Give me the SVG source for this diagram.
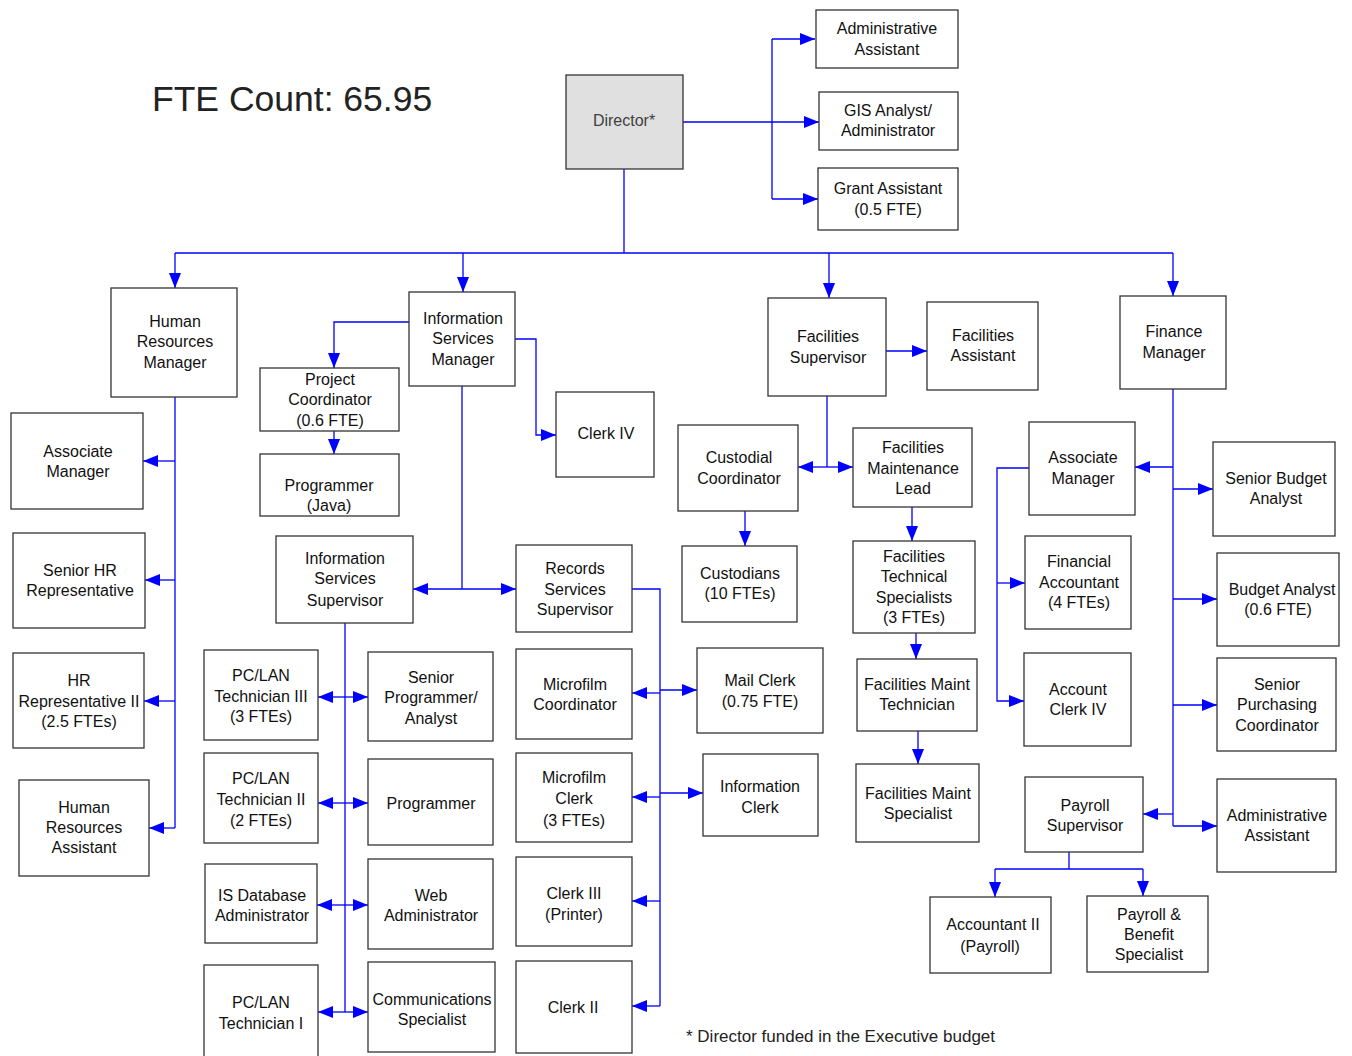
<svg xmlns="http://www.w3.org/2000/svg" width="1352" height="1056" viewBox="0 0 1352 1056">
<defs>
<marker id="ar" markerUnits="userSpaceOnUse" markerWidth="15" markerHeight="12" refX="15" refY="6" orient="auto" viewBox="0 0 15 12">
<path d="M0,0 L15,6 L0,12 z" fill="#0000ff"/>
</marker>
<style>
.n rect{fill:#fff;stroke:#333;stroke-width:1.3}
.n text{font-family:"Liberation Sans",Arial,sans-serif;font-size:16px;fill:#111;text-anchor:middle}
#director rect{fill:#e0e0e0}
#director text{fill:#404040}
#connectors path{fill:none;stroke:#0000ff;stroke-width:1.3}
#connectors path.a{marker-end:url(#ar)}
.t{font-family:"Liberation Sans",Arial,sans-serif;fill:#222}
</style>
</defs>
<rect width="1352" height="1056" fill="#fff"/>
<text class="t" x="152" y="111" font-size="35.5">FTE Count: 65.95</text>
<text class="t" x="686" y="1042" font-size="17">* Director funded in the Executive budget</text>

<g id="connectors">
<path d="M683,122 H819" class="a"/>
<path d="M772,39 V199"/>
<path d="M772,39 H815" class="a"/>
<path d="M772,199 H818" class="a"/>
<path d="M624,169 V253"/>
<path d="M175,253 H1173"/>
<path d="M175,253 V288" class="a"/>
<path d="M463,253 V292" class="a"/>
<path d="M829,253 V298" class="a"/>
<path d="M1173,253 V296" class="a"/>
<path d="M175,397 V828"/>
<path d="M175,461 H143" class="a"/>
<path d="M175,580 H145" class="a"/>
<path d="M175,701 H144" class="a"/>
<path d="M175,828 H149" class="a"/>
<path d="M409,322 H334 V368" class="a"/>
<path d="M334,431 V454" class="a"/>
<path d="M515,339 H536 V435 H556" class="a"/>
<path d="M462,386 V589"/>
<path d="M462,589 H413" class="a"/>
<path d="M462,589 H516" class="a"/>
<path d="M345,623 V1012"/>
<path d="M345,697 H318" class="a"/>
<path d="M345,697 H368" class="a"/>
<path d="M345,803 H318" class="a"/>
<path d="M345,803 H368" class="a"/>
<path d="M345,905 H317" class="a"/>
<path d="M345,905 H368" class="a"/>
<path d="M345,1012 H318" class="a"/>
<path d="M345,1012 H368" class="a"/>
<path d="M632,589 H660 V1006"/>
<path d="M660,693 H632" class="a"/>
<path d="M660,797 H632" class="a"/>
<path d="M660,901 H632" class="a"/>
<path d="M660,1006 H632" class="a"/>
<path d="M660,690 H697" class="a"/>
<path d="M660,793 H703" class="a"/>
<path d="M886,351 H927" class="a"/>
<path d="M827,396 V467"/>
<path d="M827,467 H798" class="a"/>
<path d="M827,467 H853" class="a"/>
<path d="M745,511 V546" class="a"/>
<path d="M912,507 V541" class="a"/>
<path d="M916,633 V659" class="a"/>
<path d="M918,731 V764" class="a"/>
<path d="M1173,389 V826"/>
<path d="M1173,467 H1135" class="a"/>
<path d="M1173,489 H1213" class="a"/>
<path d="M1173,599 H1217" class="a"/>
<path d="M1173,705 H1217" class="a"/>
<path d="M1173,826 H1217" class="a"/>
<path d="M1173,814 H1143" class="a"/>
<path d="M1029,468 H997 V701 H1024" class="a"/>
<path d="M997,583 H1025" class="a"/>
<path d="M1069,852 V869"/>
<path d="M995,869 H1143"/>
<path d="M995,869 V897" class="a"/>
<path d="M1143,869 V896" class="a"/>
</g>

<g id="director" class="n"><rect x="566" y="75" width="117" height="94"/><text x="624" y="126">Director*</text></g>
<g id="admin-assistant" class="n"><rect x="816" y="10" width="142" height="58"/><text x="887" y="34">Administrative</text><text x="887" y="55">Assistant</text></g>
<g id="gis-analyst" class="n"><rect x="819" y="92" width="139" height="58"/><text x="888" y="116">GIS Analyst/</text><text x="888" y="136">Administrator</text></g>
<g id="grant-assistant" class="n"><rect x="818" y="168" width="140" height="62"/><text x="888" y="194">Grant Assistant</text><text x="888" y="215">(0.5 FTE)</text></g>

<g id="hr-manager" class="n"><rect x="111" y="288" width="126" height="109"/><text x="175" y="327">Human</text><text x="175" y="347">Resources</text><text x="175" y="368">Manager</text></g>
<g id="hr-associate-manager" class="n"><rect x="11" y="413" width="132" height="96"/><text x="78" y="457">Associate</text><text x="78" y="477">Manager</text></g>
<g id="senior-hr-rep" class="n"><rect x="13" y="533" width="132" height="95"/><text x="80" y="576">Senior HR</text><text x="80" y="596">Representative</text></g>
<g id="hr-rep-ii" class="n"><rect x="13" y="653" width="131" height="95"/><text x="79" y="686">HR</text><text x="79" y="707">Representative II</text><text x="79" y="727">(2.5 FTEs)</text></g>
<g id="hr-assistant" class="n"><rect x="19" y="780" width="130" height="96"/><text x="84" y="813">Human</text><text x="84" y="833">Resources</text><text x="84" y="853">Assistant</text></g>

<g id="is-manager" class="n"><rect x="409" y="292" width="106" height="94"/><text x="463" y="324">Information</text><text x="463" y="344">Services</text><text x="463" y="365">Manager</text></g>
<g id="project-coordinator" class="n"><rect x="260" y="368" width="139" height="63"/><text x="330" y="385">Project</text><text x="330" y="405">Coordinator</text><text x="330" y="426">(0.6 FTE)</text></g>
<g id="programmer-java" class="n"><rect x="260" y="454" width="139" height="62"/><text x="329" y="491">Programmer</text><text x="329" y="511">(Java)</text></g>
<g id="clerk-iv" class="n"><rect x="556" y="392" width="98" height="85"/><text x="606" y="439">Clerk IV</text></g>
<g id="is-supervisor" class="n"><rect x="276" y="536" width="137" height="87"/><text x="345" y="564">Information</text><text x="345" y="584">Services</text><text x="345" y="606">Supervisor</text></g>
<g id="pclan-iii" class="n"><rect x="204" y="650" width="114" height="90"/><text x="261" y="681">PC/LAN</text><text x="261" y="702">Technician III</text><text x="261" y="722">(3 FTEs)</text></g>
<g id="senior-programmer" class="n"><rect x="368" y="652" width="125" height="89"/><text x="431" y="683">Senior</text><text x="431" y="703">Programmer/</text><text x="431" y="724">Analyst</text></g>
<g id="pclan-ii" class="n"><rect x="204" y="753" width="114" height="90"/><text x="261" y="784">PC/LAN</text><text x="261" y="805">Technician II</text><text x="261" y="826">(2 FTEs)</text></g>
<g id="programmer" class="n"><rect x="368" y="759" width="125" height="86"/><text x="431" y="809">Programmer</text></g>
<g id="is-db-admin" class="n"><rect x="205" y="864" width="112" height="79"/><text x="262" y="901">IS Database</text><text x="262" y="921">Administrator</text></g>
<g id="web-admin" class="n"><rect x="368" y="859" width="125" height="90"/><text x="431" y="901">Web</text><text x="431" y="921">Administrator</text></g>
<g id="pclan-i" class="n"><rect x="204" y="965" width="114" height="95"/><text x="261" y="1008">PC/LAN</text><text x="261" y="1029">Technician I</text></g>
<g id="comm-specialist" class="n"><rect x="368" y="962" width="127" height="90"/><text x="432" y="1005">Communications</text><text x="432" y="1025">Specialist</text></g>

<g id="records-supervisor" class="n"><rect x="516" y="545" width="116" height="87"/><text x="575" y="574">Records</text><text x="575" y="595">Services</text><text x="575" y="615">Supervisor</text></g>
<g id="microfilm-coordinator" class="n"><rect x="516" y="649" width="116" height="90"/><text x="575" y="690">Microfilm</text><text x="575" y="710">Coordinator</text></g>
<g id="mail-clerk" class="n"><rect x="697" y="648" width="126" height="85"/><text x="760" y="686">Mail Clerk</text><text x="760" y="707">(0.75 FTE)</text></g>
<g id="microfilm-clerk" class="n"><rect x="516" y="753" width="116" height="89"/><text x="574" y="783">Microfilm</text><text x="574" y="804">Clerk</text><text x="574" y="826">(3 FTEs)</text></g>
<g id="information-clerk" class="n"><rect x="703" y="754" width="115" height="82"/><text x="760" y="792">Information</text><text x="760" y="813">Clerk</text></g>
<g id="clerk-iii" class="n"><rect x="516" y="857" width="116" height="89"/><text x="574" y="899">Clerk III</text><text x="574" y="920">(Printer)</text></g>
<g id="clerk-ii" class="n"><rect x="516" y="961" width="116" height="92"/><text x="573" y="1013">Clerk II</text></g>

<g id="facilities-supervisor" class="n"><rect x="768" y="298" width="118" height="98"/><text x="828" y="342">Facilities</text><text x="828" y="363">Supervisor</text></g>
<g id="facilities-assistant" class="n"><rect x="927" y="302" width="111" height="88"/><text x="983" y="341">Facilities</text><text x="983" y="361">Assistant</text></g>
<g id="custodial-coordinator" class="n"><rect x="678" y="425" width="120" height="86"/><text x="739" y="463">Custodial</text><text x="739" y="484">Coordinator</text></g>
<g id="custodians" class="n"><rect x="682" y="546" width="115" height="76"/><text x="740" y="579">Custodians</text><text x="740" y="599">(10 FTEs)</text></g>
<g id="facilities-maint-lead" class="n"><rect x="853" y="428" width="119" height="79"/><text x="913" y="453">Facilities</text><text x="913" y="474">Maintenance</text><text x="913" y="494">Lead</text></g>
<g id="facilities-tech-specialists" class="n"><rect x="853" y="541" width="122" height="92"/><text x="914" y="562">Facilities</text><text x="914" y="582">Technical</text><text x="914" y="603">Specialists</text><text x="914" y="623">(3 FTEs)</text></g>
<g id="facilities-maint-tech" class="n"><rect x="857" y="659" width="120" height="72"/><text x="917" y="690">Facilities Maint</text><text x="917" y="710">Technician</text></g>
<g id="facilities-maint-specialist" class="n"><rect x="856" y="764" width="123" height="78"/><text x="918" y="799">Facilities Maint</text><text x="918" y="819">Specialist</text></g>

<g id="finance-manager" class="n"><rect x="1120" y="296" width="106" height="93"/><text x="1174" y="337">Finance</text><text x="1174" y="358">Manager</text></g>
<g id="fin-associate-manager" class="n"><rect x="1029" y="422" width="106" height="93"/><text x="1083" y="463">Associate</text><text x="1083" y="484">Manager</text></g>
<g id="senior-budget-analyst" class="n"><rect x="1213" y="442" width="122" height="94"/><text x="1276" y="484">Senior Budget</text><text x="1276" y="504">Analyst</text></g>
<g id="financial-accountant" class="n"><rect x="1025" y="536" width="106" height="93"/><text x="1079" y="567">Financial</text><text x="1079" y="588">Accountant</text><text x="1079" y="608">(4 FTEs)</text></g>
<g id="budget-analyst" class="n"><rect x="1217" y="553" width="122" height="93"/><text x="1282" y="595">Budget Analyst</text><text x="1278" y="615">(0.6 FTE)</text></g>
<g id="account-clerk-iv" class="n"><rect x="1024" y="653" width="107" height="93"/><text x="1078" y="695">Account</text><text x="1078" y="715">Clerk IV</text></g>
<g id="senior-purchasing" class="n"><rect x="1217" y="658" width="119" height="93"/><text x="1277" y="690">Senior</text><text x="1277" y="710">Purchasing</text><text x="1277" y="731">Coordinator</text></g>
<g id="payroll-supervisor" class="n"><rect x="1025" y="777" width="118" height="75"/><text x="1085" y="811">Payroll</text><text x="1085" y="831">Supervisor</text></g>
<g id="fin-admin-assistant" class="n"><rect x="1217" y="779" width="119" height="93"/><text x="1277" y="821">Administrative</text><text x="1277" y="841">Assistant</text></g>
<g id="accountant-ii" class="n"><rect x="930" y="897" width="121" height="76"/><text x="993" y="930">Accountant II</text><text x="990" y="952">(Payroll)</text></g>
<g id="payroll-benefit" class="n"><rect x="1087" y="896" width="121" height="76"/><text x="1149" y="920">Payroll &amp;</text><text x="1149" y="940">Benefit</text><text x="1149" y="960">Specialist</text></g>
</svg>
